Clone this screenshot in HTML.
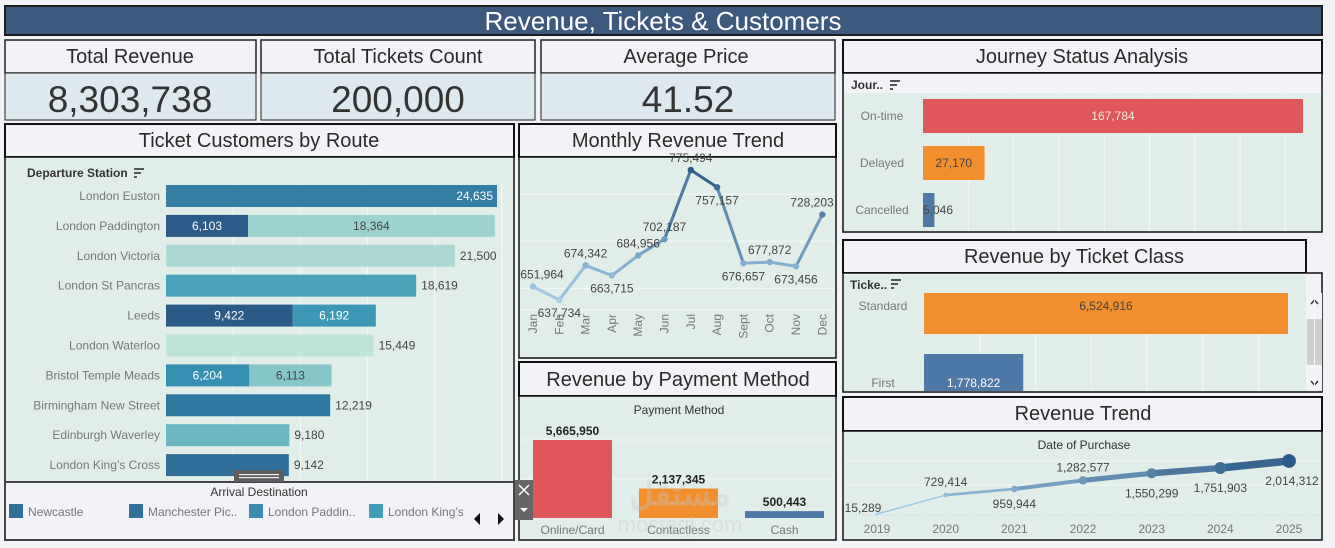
<!DOCTYPE html>
<html><head><meta charset="utf-8">
<style>
html,body{margin:0;padding:0;background:#f1f3f6;}
svg{display:block;font-family:"Liberation Sans",sans-serif;}
.hd{font-size:20px;fill:#2a2a2a;text-anchor:middle;}
.kv{font-size:37px;fill:#333;text-anchor:middle;}
.rl{font-size:12px;fill:#777;}
.vl{font-size:12px;fill:#444;}
</style></head>
<body>
<svg id="dash" width="1335" height="548" viewBox="0 0 1335 548">
 <rect x="0" y="0" width="1335" height="548" fill="#f1f3f6"/>
 <rect x="5" y="6" width="1317" height="29" fill="#3d5a7e" stroke="#1e1e1e" stroke-width="2"/>
 <text x="663" y="30" font-size="26" fill="#fff" text-anchor="middle">Revenue, Tickets &amp; Customers</text>

 <g>
  <rect x="5" y="40" width="251" height="33" fill="#f1f3f6" stroke="#222" stroke-width="1.5"/>
  <rect x="5" y="73" width="251" height="47" fill="#dde9ef" stroke="#222" stroke-width="1"/>
  <text class="hd" x="130" y="63">Total Revenue</text>
  <text class="kv" x="130" y="112">8,303,738</text>
 </g>
 <g>
  <rect x="261" y="40" width="274" height="33" fill="#f1f3f6" stroke="#222" stroke-width="1.5"/>
  <rect x="261" y="73" width="274" height="47" fill="#dde9ef" stroke="#222" stroke-width="1"/>
  <text class="hd" x="398" y="63">Total Tickets Count</text>
  <text class="kv" x="398" y="112">200,000</text>
 </g>
 <g>
  <rect x="541" y="40" width="294" height="33" fill="#f1f3f6" stroke="#222" stroke-width="1.5"/>
  <rect x="541" y="73" width="294" height="47" fill="#dde9ef" stroke="#222" stroke-width="1"/>
  <text class="hd" x="686" y="63">Average Price</text>
  <text class="kv" x="688" y="112">41.52</text>
 </g>

 <rect x="843" y="40" width="479" height="33" fill="#f1f3f6" stroke="#111" stroke-width="2"/>
 <text class="hd" x="1082" y="63">Journey Status Analysis</text>
 <rect x="843" y="73" width="479" height="159" fill="#f1f3f6" stroke="#111" stroke-width="1.5"/>
 <rect x="844" y="93" width="477" height="138" fill="#e0ede9"/>
 <text x="851" y="89" font-size="12" fill="#333" font-weight="bold">Jour..</text>
 <g fill="#555"><rect x="890" y="80" width="10" height="2"/><rect x="890" y="84" width="7" height="2"/><rect x="890" y="88" width="3" height="2"/></g>

 <rect x="5" y="124" width="509" height="33" fill="#f1f3f6" stroke="#111" stroke-width="2"/>
 <text class="hd" x="259" y="147">Ticket Customers by Route</text>
 <rect x="5" y="157" width="509" height="325" fill="#e0ede9" stroke="#111" stroke-width="1.5"/>
 <text x="27" y="177" font-size="12" fill="#333" font-weight="bold">Departure Station</text>
 <g fill="#555"><rect x="134" y="168" width="10" height="2"/><rect x="134" y="172" width="7" height="2"/><rect x="134" y="176" width="3" height="2"/></g>

 <rect x="519" y="124" width="317" height="33" fill="#f1f3f6" stroke="#111" stroke-width="2"/>
 <text class="hd" x="678" y="147">Monthly Revenue Trend</text>
 <rect x="519" y="157" width="317" height="201" fill="#e0ede9" stroke="#111" stroke-width="1.5"/>

 <rect x="519" y="362" width="317" height="34" fill="#f1f3f6" stroke="#111" stroke-width="2"/>
 <text class="hd" x="678" y="386">Revenue by Payment Method</text>
 <rect x="519" y="396" width="317" height="144" fill="#e0ede9" stroke="#111" stroke-width="1.5"/>
 <text x="679" y="414" font-size="12" fill="#333" text-anchor="middle">Payment Method</text>

 <rect x="843" y="240" width="463" height="33" fill="#f1f3f6" stroke="#111" stroke-width="2"/>
 <text class="hd" x="1074" y="263">Revenue by Ticket Class</text>
 <rect x="843" y="273" width="479" height="119" fill="#f1f3f6" stroke="#111" stroke-width="1.5"/>
 <rect x="844" y="275" width="462" height="116" fill="#e0ede9"/>
 <text x="850" y="289" font-size="12" fill="#333" font-weight="bold">Ticke..</text>
 <g fill="#555"><rect x="891" y="279" width="10" height="2"/><rect x="891" y="283" width="7" height="2"/><rect x="891" y="287" width="3" height="2"/></g>
 <g>
  <rect x="1307" y="293" width="15" height="98" fill="#f1f3f6"/>
  <rect x="1307" y="319" width="15" height="46" fill="#cfcfcf"/>
  <path d="M1311 304 L1314.5 300 L1318 304" stroke="#333" stroke-width="1.5" fill="none"/>
  <path d="M1311 381 L1314.5 385 L1318 381" stroke="#333" stroke-width="1.5" fill="none"/>
 </g>

 <rect x="843" y="397" width="479" height="34" fill="#f1f3f6" stroke="#111" stroke-width="2"/>
 <text class="hd" x="1083" y="420">Revenue Trend</text>
 <rect x="843" y="431" width="479" height="109" fill="#e0ede9" stroke="#111" stroke-width="1.5"/>
 <text x="1084" y="449" font-size="12" fill="#333" text-anchor="middle">Date of Purchase</text>

 <g id="route"></g><g id="monthly"></g><g id="payment"></g><g id="journey"></g><g id="tclass"></g><g id="trend"></g>

 <text x="680" y="505" font-size="34" fill="#c8c8c8" fill-opacity="0.35" text-anchor="middle" font-weight="bold">مستقل</text>
 <text x="680" y="532" font-size="22" fill="#c8c8c8" fill-opacity="0.35" text-anchor="middle">mostaql.com</text>

 <g>
  <rect x="5" y="482" width="509" height="58" fill="#f2f3f6" stroke="#444" stroke-width="2"/>
  <rect x="234" y="470" width="50" height="12" fill="#5e5e5e"/>
  <rect x="239" y="474" width="40" height="1.2" fill="#eee"/><rect x="239" y="477" width="40" height="1.2" fill="#eee"/>
  <text x="259" y="496" font-size="12" fill="#333" text-anchor="middle">Arrival Destination</text>
  <g><rect x="9" y="504" width="14" height="14" fill="#2f6f9a"/><text class="rl" x="28" y="516">Newcastle</text></g>
  <g><rect x="129" y="504" width="14" height="14" fill="#31729b"/><text class="rl" x="148" y="516">Manchester Pic..</text></g>
  <g><rect x="249" y="504" width="14" height="14" fill="#3a8db0"/><text class="rl" x="268" y="516">London Paddin..</text></g>
  <g><rect x="369" y="504" width="14" height="14" fill="#3f9db8"/><text class="rl" x="388" y="516">London King’s</text></g>
  <rect x="463" y="505" width="6" height="16" fill="#f2f3f6"/>
  <path d="M480 513 L474 519 L480 525 Z" fill="#111"/>
  <path d="M498 513 L504 519 L498 525 Z" fill="#111"/>
 </g>
 <g>
  <rect x="515" y="480" width="18" height="40" fill="#666"/>
  <path d="M519 485 L529 495 M529 485 L519 495" stroke="#fff" stroke-width="1.5"/>
  <path d="M520 508 L528 508 L524 512 Z" fill="#fff"/>
 </g>
</svg>

<script>
var NS='http://www.w3.org/2000/svg';
function E(tag,parent){var e=document.createElementNS(NS,tag);parent.appendChild(e);return e;}
function fmt(v){return v.toLocaleString('en-US');}

var routeStations=['London Euston','London Paddington','London Victoria','London St Pancras','Leeds','London Waterloo','Bristol Temple Meads','Birmingham New Street','Edinburgh Waverley','London King’s Cross'];
var routeSeg1=[24635,6103,21500,18619,9422,15449,6204,12219,9180,9142];
var routeSeg2=[0,18364,0,0,6192,0,6113,0,0,0];
var routeColor1=['#357ea3','#2d5b87','#acd9d3','#4aa3bb','#2c5a86','#bde5da','#3690b2','#2f78a0','#6db6c4','#2f6f9a'];
var routeColor2=['','#9dd3cf','','','#3d97b5','','#86c5c8','','',''];
var routeTicks=[5000,10000,15000,20000,25000];
(function(){
 var g=document.getElementById('route');
 var x0=166,sc=331/24635;
 function X(v){return x0+v*sc;}
 function Y(i){return 196+i*29.9;}
 routeTicks.forEach(function(t){var l=E('line',g);l.setAttribute('x1',X(t));l.setAttribute('x2',X(t));l.setAttribute('y1',183);l.setAttribute('y2',482);l.setAttribute('stroke','#f4f8f7');l.setAttribute('stroke-width',1);
  
  });
 routeStations.forEach(function(s,i){
  var y=Y(i);
  var t=E('text',g);t.setAttribute('x',160);t.setAttribute('y',y+4);t.setAttribute('text-anchor','end');t.setAttribute('class','rl');t.textContent=s;
  
  
  var a=routeSeg1[i],b=routeSeg2[i];
  var r=E('rect',g);r.setAttribute('x',X(0));r.setAttribute('y',y-11);r.setAttribute('width',a*sc);r.setAttribute('height',22);r.setAttribute('fill',routeColor1[i]);
  
  
  if(b>0){
   var r2=E('rect',g);r2.setAttribute('x',X(a));r2.setAttribute('y',y-11);r2.setAttribute('width',b*sc);r2.setAttribute('height',22);r2.setAttribute('fill',routeColor2[i]);
   
   
   var l1=E('text',g);l1.setAttribute('x',X(a/2));l1.setAttribute('y',y+4);l1.setAttribute('text-anchor','middle');l1.setAttribute('class','vl');l1.style.fill='#fff';l1.textContent=fmt(a);
   
   
   var l2=E('text',g);l2.setAttribute('x',X(a+b/2));l2.setAttribute('y',y+4);l2.setAttribute('text-anchor','middle');l2.setAttribute('class','vl');
   if(i==4)l2.style.fill='#fff';
   l2.textContent=fmt(b);
   
   
  } else {
   var l=E('text',g);var inside=X(a)>470;
   l.setAttribute('x',inside?X(a)-4:X(a)+5);l.setAttribute('y',y+4);l.setAttribute('text-anchor',inside?'end':'start');l.setAttribute('class','vl');
   if(inside)l.style.fill='#fff';
   l.textContent=fmt(a);
   
   
  }
 });
})();

var months=['Jan','Feb','Mar','Apr','May','Jun','Jul','Aug','Sept','Oct','Nov','Dec'];
var monthlyRevenue=[651964,637734,674342,663715,684956,702187,775494,757157,676657,677872,673456,728203];
var monthlyTicks=[650000,700000,750000];
(function(){
 var g=document.getElementById('monthly');
 function X(i){return 533+i*26.3;}
 function Y(v){return 300-(v-637734)*0.000944;}
 monthlyTicks.forEach(function(t){var l=E('line',g);l.setAttribute('x1',520);l.setAttribute('x2',835);l.setAttribute('y1',Y(t));l.setAttribute('y2',Y(t));l.setAttribute('stroke','#f4f8f7');
  
  });
 var bl=E('line',g);bl.setAttribute('x1',520);bl.setAttribute('x2',835);bl.setAttribute('y1',310);bl.setAttribute('y2',310);bl.setAttribute('stroke','#f4f8f7');
 var mn=Math.min.apply(null,monthlyRevenue),mx=Math.max.apply(null,monthlyRevenue);
 function col(v){var f=(v-mn)/(mx-mn);var a=[168,208,236],b=[45,91,135];return 'rgb('+a.map(function(c,k){return Math.round(c+(b[k]-c)*f);}).join(',')+')';}
 for(var i=0;i<monthlyRevenue.length-1;i++){
  var s=E('line',g);s.setAttribute('x1',X(i));s.setAttribute('y1',Y(monthlyRevenue[i]));s.setAttribute('x2',X(i+1));s.setAttribute('y2',Y(monthlyRevenue[i+1]));
  s.setAttribute('stroke',col((monthlyRevenue[i]+monthlyRevenue[i+1])/2));s.setAttribute('stroke-width',3);s.setAttribute('stroke-linecap','round');
  
  
 }
 var above=[1,0,1,0,1,1,1,0,0,1,0,1];
 monthlyRevenue.forEach(function(v,i){
  var c=E('circle',g);c.setAttribute('cx',X(i));c.setAttribute('cy',Y(v));c.setAttribute('r',3.2);c.setAttribute('fill',col(v));
  
  
  var t=E('text',g);var lx=X(i);if(i==0)lx=542;if(i==11)lx=812;
  t.setAttribute('x',lx);t.setAttribute('y',above[i]?Y(v)-8:Y(v)+17);t.setAttribute('text-anchor','middle');t.setAttribute('class','vl');t.textContent=fmt(v);
  
  
  var m=E('text',g);m.setAttribute('transform','translate('+(X(i)+4)+',314) rotate(-90)');m.setAttribute('text-anchor','end');m.setAttribute('class','rl');m.textContent=months[i];
  
  
 });
})();

var payMethods=['Online/Card','Contactless','Cash'];
var payRevenue=[5665950,2137345,500443];
var payColors=['#e0575b','#f28e2c','#4e79a7'];
(function(){
 var g=document.getElementById('payment');
 var base=518,sc=78/5665950;
 [440,479].forEach(function(y){var l=E('line',g);l.setAttribute('x1',520);l.setAttribute('x2',835);l.setAttribute('y1',y);l.setAttribute('y2',y);l.setAttribute('stroke','#f4f8f7');});
 payMethods.forEach(function(m,i){
  var x=533+i*106;var h=payRevenue[i]*sc;
  var r=E('rect',g);r.setAttribute('x',x);r.setAttribute('y',base-h);r.setAttribute('width',79);r.setAttribute('height',h);r.setAttribute('fill',payColors[i]);
  
  
  var t=E('text',g);t.setAttribute('x',x+39.5);t.setAttribute('y',base-h-5);t.setAttribute('text-anchor','middle');t.setAttribute('font-size',12);t.setAttribute('font-weight','bold');t.setAttribute('fill','#222');t.textContent=fmt(payRevenue[i]);
  
  
  var c=E('text',g);c.setAttribute('x',x+39.5);c.setAttribute('y',534);c.setAttribute('text-anchor','middle');c.setAttribute('class','rl');c.textContent=m;
  
  
 });
})();

var journeyStatus=['On-time','Delayed','Cancelled'];
var journeyCount=[167784,27170,5046];
var journeyColors=['#e0575b','#f28e2c','#4e79a7'];
var journeyTicks=[20000,40000,60000,80000,100000,120000,140000,160000,180000];
(function(){
 var g=document.getElementById('journey');
 var x0=923,sc=380/167784;
 journeyTicks.forEach(function(t){var l=E('line',g);l.setAttribute('x1',x0+t*sc);l.setAttribute('x2',x0+t*sc);l.setAttribute('y1',93);l.setAttribute('y2',231);l.setAttribute('stroke','#f4f8f7');
  
  });
 journeyStatus.forEach(function(s,i){
  var y=116+i*47;
  var r=E('rect',g);r.setAttribute('x',x0);r.setAttribute('y',y-17);r.setAttribute('width',journeyCount[i]*sc);r.setAttribute('height',34);r.setAttribute('fill',journeyColors[i]);
  
  
  var l=E('text',g);l.setAttribute('x',882);l.setAttribute('y',y+4);l.setAttribute('text-anchor','middle');l.setAttribute('class','rl');l.textContent=s;
  
  
  var w=journeyCount[i]*sc;var v=E('text',g);
  if(w>40){v.setAttribute('x',x0+w/2);v.setAttribute('text-anchor','middle');}else{v.setAttribute('x',x0);v.setAttribute('text-anchor','start');}
  v.setAttribute('y',y+4);v.setAttribute('class','vl');if(i==0)v.style.fill='#f7e6d8';v.textContent=fmt(journeyCount[i]);
  
  
 });
})();

var ticketClasses=['Standard','First'];
var ticketRevenue=[6524916,1778822];
var ticketColors=['#f28e2c','#4e79a7'];
var ticketTicks=[1000000,2000000,3000000,4000000,5000000,6000000,7000000];
(function(){
 var g=document.getElementById('tclass');
 var x0=924,sc=364/6524916;
 ticketTicks.forEach(function(t){var l=E('line',g);l.setAttribute('x1',x0+t*sc);l.setAttribute('x2',x0+t*sc);l.setAttribute('y1',293);l.setAttribute('y2',391);l.setAttribute('stroke','#f4f8f7');
  
  });
 var clip=E('clipPath',g);clip.setAttribute('id','tcclip');var cr=E('rect',clip);cr.setAttribute('x',844);cr.setAttribute('y',275);cr.setAttribute('width',462);cr.setAttribute('height',116);
 var gg=E('g',g);gg.setAttribute('clip-path','url(#tcclip)');
 ticketClasses.forEach(function(c,i){
  var top=293+i*61;
  var r=E('rect',gg);r.setAttribute('x',x0);r.setAttribute('y',top);r.setAttribute('width',ticketRevenue[i]*sc);r.setAttribute('height',41);r.setAttribute('fill',ticketColors[i]);
  
  
  var ly=i==0?top+17:top+33;
  var l=E('text',gg);l.setAttribute('x',883);l.setAttribute('y',ly);l.setAttribute('text-anchor','middle');l.setAttribute('class','rl');l.textContent=c;
  
  
  var v=E('text',gg);v.setAttribute('x',x0+ticketRevenue[i]*sc/2);v.setAttribute('y',ly);v.setAttribute('text-anchor','middle');v.setAttribute('class','vl');if(i==1)v.style.fill='#fff';v.textContent=fmt(ticketRevenue[i]);
  
  
 });
})();

var years=['2019','2020','2021','2022','2023','2024','2025'];
var yearRevenue=[15289,729414,959944,1282577,1550299,1751903,2014312];
(function(){
 var g=document.getElementById('trend');
 function X(i){return 877+i*68.67;}
 function Y(v){return 514-(v-15289)*(53/1999023);}
 [461,485].forEach(function(y){var l=E('line',g);l.setAttribute('x1',844);l.setAttribute('x2',1321);l.setAttribute('y1',y);l.setAttribute('y2',y);l.setAttribute('stroke','#f4f8f7');});
 var bl=E('line',g);bl.setAttribute('x1',844);bl.setAttribute('x2',1321);bl.setAttribute('y1',515);bl.setAttribute('y2',515);bl.setAttribute('stroke','#c9d6d2');bl.setAttribute('stroke-dasharray','1 2');
 function col(f){var a=[168,208,236],b=[45,91,135];return 'rgb('+a.map(function(c,k){return Math.round(c+(b[k]-c)*f);}).join(',')+')';}
 var n=yearRevenue.length;
 for(var i=0;i<n-1;i++){
  var s=E('line',g);s.setAttribute('x1',X(i));s.setAttribute('y1',Y(yearRevenue[i]));s.setAttribute('x2',X(i+1));s.setAttribute('y2',Y(yearRevenue[i+1]));
  s.setAttribute('stroke',col((i+0.5)/(n-1)));s.setAttribute('stroke-width',1.5+i*1.2);s.setAttribute('stroke-linecap','round');
  
  
 }
 var above=[1,1,0,1,0,0,0];
 yearRevenue.forEach(function(v,i){
  var c=E('circle',g);c.setAttribute('cx',X(i));c.setAttribute('cy',Y(v));c.setAttribute('r',1.5+i*0.9);c.setAttribute('fill',col(i/(n-1)));
  
  
  var t=E('text',g);var lx=X(i);if(i==0)lx=863;if(i==6)lx=1292;
  t.setAttribute('x',lx);t.setAttribute('y',above[i]?Y(v)-9:Y(v)+(i==2?19:24));if(i==0)t.setAttribute('y',Y(v)-2);
  t.setAttribute('text-anchor','middle');t.setAttribute('class','vl');t.textContent=fmt(v);
  
  
  var y=E('text',g);y.setAttribute('x',X(i));y.setAttribute('y',533);y.setAttribute('text-anchor','middle');y.setAttribute('class','rl');y.textContent=years[i];
  
  
 });
})();
</script>
</body></html>
